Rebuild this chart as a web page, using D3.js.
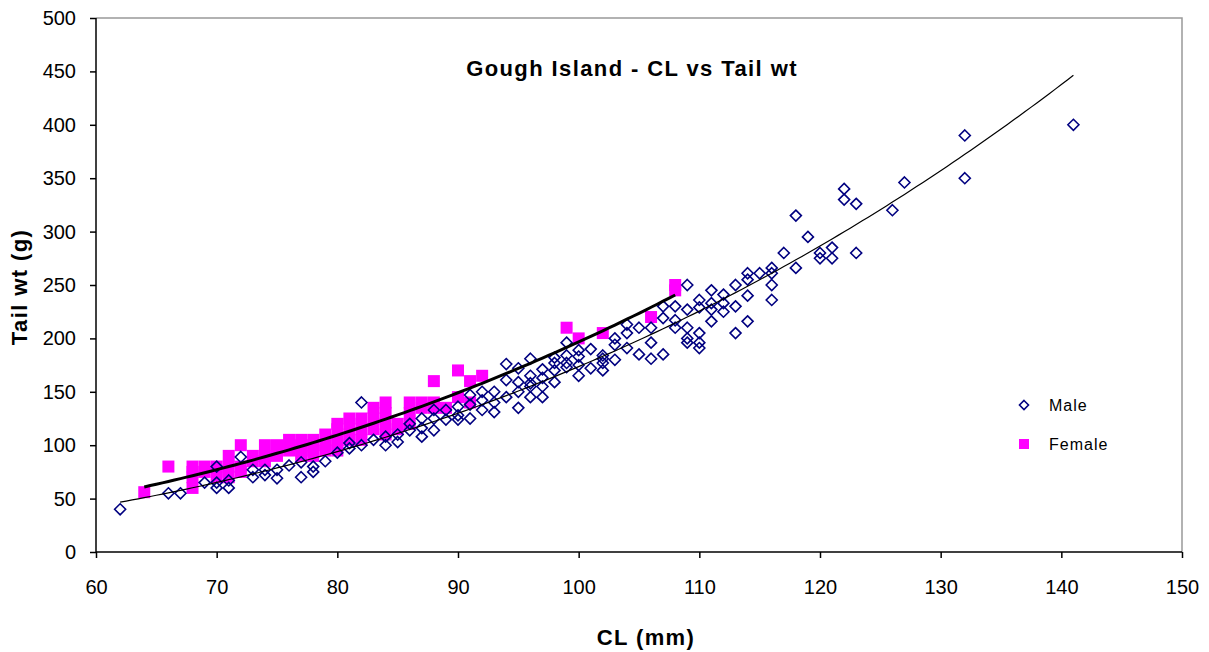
<!DOCTYPE html>
<html>
<head>
<meta charset="utf-8">
<script src="https://cdn.jsdelivr.net/npm/d3@7"></script>
<style>
  body { margin: 0; background: #fff; }
  text { font-family: "Liberation Sans", Arial, sans-serif; }
</style>
</head>
<body>
<div id="chart"></div>
<script>
// male: carapace length (mm) and tail weight (g)
const maleCL = [62, 66, 67, 69, 70, 70, 70, 71, 71, 72, 73, 73, 74, 74, 75, 75, 76, 77, 77, 78, 78, 79,
  80, 81, 81, 82, 82, 83, 84, 84, 85, 85, 86, 86, 87, 87, 87, 88, 88, 88, 89, 89,
  90, 90, 90, 91, 91, 91, 92, 92, 92, 93, 93, 93, 94, 94, 94, 95, 95, 95, 95,
  96, 96, 96, 96, 96, 97, 97, 97, 97, 98, 98, 98, 98, 99, 99, 99, 99,
  100, 100, 100, 100, 101, 101, 102, 102, 102, 102, 103, 103, 103, 104, 104, 104,
  105, 105, 106, 106, 106, 107, 107, 107, 108, 108, 108, 109, 109, 109, 109, 109,
  110, 110, 110, 110, 110, 111, 111, 111, 111, 112, 112, 112, 113, 113, 113,
  114, 114, 114, 114, 115, 116, 116, 116, 116, 117, 118, 118, 119, 120, 120, 121, 121,
  122, 122, 123, 123, 126, 127, 132, 132, 141];
const maleWt = [40, 55, 55, 65, 60, 65, 80, 60, 67, 89, 70, 77, 72, 77, 69, 77, 81, 70, 84, 75, 80, 85,
  93, 97, 102, 100, 140, 105, 100, 108, 103, 110, 114, 120, 108, 116, 125, 114, 125, 133, 124, 133,
  124, 128, 136, 125, 138, 147, 133, 142, 150, 131, 140, 150, 145, 161, 176, 135, 150, 159, 172,
  145, 155, 158, 165, 181, 145, 155, 163, 171, 159, 170, 177, 182, 173, 177, 184, 196,
  165, 175, 183, 189, 172, 190, 170, 177, 181, 184, 180, 194, 200, 191, 205, 213,
  185, 210, 181, 196, 210, 185, 219, 230, 210, 217, 230, 196, 200, 210, 227, 250,
  191, 196, 205, 229, 236, 216, 227, 233, 245, 225, 233, 241, 205, 230, 250,
  216, 240, 255, 261, 261, 236, 250, 261, 266, 280, 266, 315, 295, 275, 280, 275, 285,
  330, 340, 280, 326, 320, 346, 350, 390, 400];

// female
const femaleCL = [64, 66, 68, 68, 68, 68, 69, 69, 70, 70, 70, 71, 71, 71, 72, 72, 72, 73, 73,
  74, 74, 74, 75, 75, 75, 76, 76, 76, 77, 77, 77, 77, 78, 78, 78, 78, 79, 79, 79,
  80, 80, 80, 80, 80, 81, 81, 81, 81, 82, 82, 82, 83, 83, 83, 84, 84, 84, 84, 85, 85,
  86, 86, 86, 87, 87, 88, 88, 88, 89, 90, 90, 91, 91, 92, 99, 100, 102, 106, 108, 108];
const femaleWt = [56, 80, 60, 70, 75, 80, 75, 80, 70, 75, 80, 70, 80, 90, 75, 80, 100, 85, 90,
  85, 90, 100, 90, 95, 100, 95, 100, 105, 90, 95, 100, 105, 90, 95, 100, 105, 95, 100, 110,
  95, 100, 105, 115, 120, 105, 110, 120, 125, 105, 115, 125, 115, 125, 135, 110, 120, 130, 140, 115, 120,
  120, 130, 140, 135, 140, 135, 140, 160, 135, 145, 170, 140, 160, 165, 210, 200, 205, 220, 245, 250];

const xTicks = [60, 70, 80, 90, 100, 110, 120, 130, 140, 150];
const yTicks = [0, 50, 100, 150, 200, 250, 300, 350, 400, 450, 500];
const legendItems = ["Male", "Female"];

const W = 1209, H = 652;
const plotL = 96, plotR = 1182, plotT = 18, plotB = 552;

const svg = d3.select("#chart").append("svg")
  .attr("width", W).attr("height", H);

const x = d3.scaleLinear().domain([60, 150]).range([plotL, plotR]);
const y = d3.scaleLinear().domain([0, 500]).range([plotB, plotT]);

// plot area border (top / right in grey)
svg.append("path")
  .attr("d", `M${plotL},${plotT}H${plotR}V${plotB}`)
  .attr("fill", "none").attr("stroke", "#999").attr("stroke-width", 1.5);

const xAxis = svg.append("g")
  .attr("transform", `translate(0,${plotB})`)
  .call(d3.axisBottom(x).tickValues(xTicks).tickSize(6).tickPadding(22));
const yAxis = svg.append("g")
  .attr("transform", `translate(${plotL},0)`)
  .call(d3.axisLeft(y).tickValues(yTicks).tickSize(6).tickPadding(14));

[xAxis, yAxis].forEach(g => {
  g.selectAll("path, line").attr("stroke", "#000").attr("stroke-width", 1.5);
  g.selectAll("text").attr("font-size", 20).attr("fill", "#000")
    .style("font-family", "'Liberation Sans', Arial, sans-serif");
});
xAxis.select(".domain").attr("d", `M${plotL},0H${plotR}`);
yAxis.select(".domain").attr("d", `M0,${plotB}V${plotT}`);

// power trendline fitted in log-log space
function powerFit(xs, ys) {
  const lx = xs.map(Math.log), ly = ys.map(Math.log);
  const mx = d3.mean(lx), my = d3.mean(ly);
  const b = d3.sum(lx, (v, i) => (v - mx) * (ly[i] - my)) / d3.sum(lx, v => (v - mx) * (v - mx));
  const a = Math.exp(my - b * mx);
  return v => a * Math.pow(v, b);
}

const male = maleCL.map((c, i) => ({cl: c, wt: maleWt[i]}));
const female = femaleCL.map((c, i) => ({cl: c, wt: femaleWt[i]}));

svg.append("g").selectAll("rect")
  .data(female).enter().append("rect")
  .attr("x", d => x(d.cl) - 6)
  .attr("y", d => y(d.wt) - 6)
  .attr("width", 12).attr("height", 12)
  .attr("fill", "#ff00ff");

const diamond = s => `M0,${-s}L${s},0L0,${s}L${-s},0Z`;

svg.append("g").selectAll("path")
  .data(male).enter().append("path")
  .attr("d", diamond(5.5))
  .attr("transform", d => `translate(${x(d.cl)},${y(d.wt)})`)
  .attr("fill", "none")
  .attr("stroke", "#000080").attr("stroke-width", 1.6);

const line = d3.line().x(d => x(d[0])).y(d => y(d[1]));

function trend(xs, ys, width) {
  const f = powerFit(xs, ys);
  const [lo, hi] = d3.extent(xs);
  const pts = d3.range(lo, hi + 0.01, 0.5).map(v => [v, f(v)]);
  svg.append("path")
    .attr("d", line(pts))
    .attr("fill", "none").attr("stroke", "#000").attr("stroke-width", width);
}
trend(maleCL, maleWt, 1.2);
trend(femaleCL, femaleWt, 3);

// title and axis titles
const boldText = (sel) => sel
  .attr("text-anchor", "middle")
  .attr("font-size", 22).attr("font-weight", "bold")
  .attr("letter-spacing", 1.4);

svg.append("text")
  .attr("x", 632).attr("y", 76)
  .call(boldText)
  .text("Gough Island - CL vs Tail wt");

svg.append("text")
  .attr("x", 646).attr("y", 645)
  .call(boldText)
  .text("CL (mm)");

svg.append("text")
  .attr("transform", "translate(27,287) rotate(-90)")
  .call(boldText)
  .text("Tail wt (g)");

// legend
const legend = svg.append("g");
legendItems.forEach((name, i) => {
  const cy = 405 + i * 39;
  if (i === 0) {
    legend.append("path")
      .attr("d", diamond(4.5))
      .attr("transform", `translate(1024,${cy})`)
      .attr("fill", "none").attr("stroke", "#000080").attr("stroke-width", 1.6);
  } else {
    legend.append("rect")
      .attr("x", 1019).attr("y", cy - 5)
      .attr("width", 10).attr("height", 10)
      .attr("fill", "#ff00ff");
  }
  legend.append("text")
    .attr("x", 1049).attr("y", cy + 6)
    .attr("font-size", 16)
    .attr("letter-spacing", 1)
    .text(name);
});
</script>
</body>
</html>
